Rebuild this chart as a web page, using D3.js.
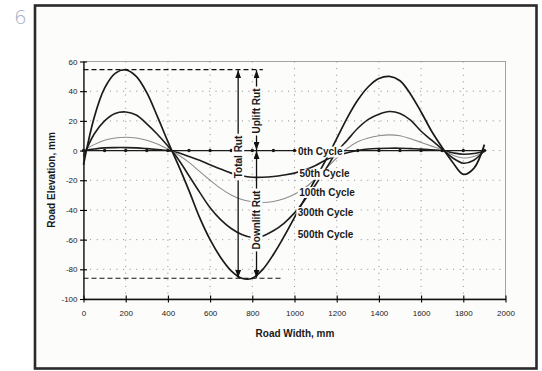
<!DOCTYPE html>
<html>
<head>
<meta charset="utf-8">
<script src="https://cdn.jsdelivr.net/npm/d3@7"></script>
<style>
  html, body { margin: 0; padding: 0; background: #fff; }
  svg { display: block; font-family: "Liberation Sans", Arial, sans-serif; }
</style>
</head>
<body>
<svg id="chart" width="542" height="371"></svg>
<script>
// road width positions (mm) for the measured profiles
const roadWidth = [0, 50, 100, 150, 200, 250, 300, 350, 400, 450, 500, 550, 600, 650, 700, 750, 800, 850, 900, 950,
  1000, 1050, 1100, 1150, 1200, 1250, 1300, 1350, 1400, 1450, 1500, 1550, 1600, 1650, 1700, 1750, 1800, 1850, 1900];

// road elevation (mm) after each number of cycles
const cycle500 = [-9.6, 22, 42, 52, 54.4, 50, 39, 23, 6, -10, -27, -45, -60, -72, -81, -86, -86, -80, -70, -58,
  -45, -32, -19, -6, 8, 22, 34, 43, 48.5, 50, 47, 38, 26, 13, 2, -8, -16, -12, 4];
const cycle300 = [-4, 11, 20, 25, 26, 24, 18, 11, 3, -6, -17, -28, -38.5, -46.5, -52.5, -56.5, -58.5, -57.5, -54, -49,
  -42, -33, -23, -12, -1, 7, 15, 21, 24.5, 26.3, 25, 20.5, 13, 7, 1, -5, -8.5, -6.5, 0];
const cycle100 = [0, 4, 7, 8.5, 9, 8.5, 7, 4.5, 1, -3, -8, -14, -20, -25.5, -30, -33, -34.5, -35, -34.3, -32.5,
  -29.5, -25, -19, -12, -5, 1.5, 6, 8.5, 10, 10.6, 10, 8, 5.5, 3, 0.5, -3, -5, -4, -1];
const cycle50 = [0, 1, 1.8, 2, 2, 1.8, 1.3, 0.7, 0, -1.5, -4, -6.5, -9.5, -12.5, -15.2, -17, -18, -18, -17.5, -16.5,
  -15.2, -13, -10, -6.2, -3.5, -1.5, 0, 1, 1.4, 1.6, 1.6, 1.3, 1, 0.5, 0, -1.5, -2.5, -2, -0.5];

// initial (0th cycle) profile, surveyed every 100 mm
const baseWidth = [0, 100, 200, 300, 400, 500, 600, 700, 800, 900, 1000, 1100, 1200, 1300, 1400, 1500, 1600, 1700, 1800, 1900];
const cycle0 = [0, 0, 0, 0, 0, 0, 0, 0, 0, 0, 0, 0, 0, 0, 0, 0, 0, 0, 0, 0];

const xTicks = [0, 200, 400, 600, 800, 1000, 1200, 1400, 1600, 1800, 2000];
const yTicks = [60, 40, 20, 0, -20, -40, -60, -80, -100];
const cycleNames = ["0th Cycle", "50th Cycle", "100th Cycle", "300th Cycle", "500th Cycle"];

// rut measurements (mm)
const upliftTop = 54.5;
const downliftBottom = -86;
const totalRutAt = 733;
const splitRutAt = 820;

const svg = d3.select("#chart");
const font = '"Liberation Sans", Arial, sans-serif';

svg.append("rect").attr("width", 542).attr("height", 371).attr("fill", "#fff");

// page number from the scan
svg.append("text")
  .attr("x", 14)
  .attr("y", 24)
  .attr("font-size", 20)
  .attr("font-family", "DejaVu Sans")
  .attr("font-weight", 200)
  .attr("fill", "#a9b0c8")
  .text("6");

// figure frame
svg.append("rect")
  .attr("x", 35)
  .attr("y", 5.5)
  .attr("width", 501.5)
  .attr("height", 363)
  .attr("fill", "#fcfcfb")
  .attr("stroke", "#2a2a2a")
  .attr("stroke-width", 2.6);

const x = d3.scaleLinear().domain([0, 2000]).range([83.5, 505.5]);
const y = d3.scaleLinear().domain([-100, 60]).range([299, 61.5]);

// plot border
svg.append("rect")
  .attr("x", x(0))
  .attr("y", y(60))
  .attr("width", x(2000) - x(0))
  .attr("height", y(-100) - y(60))
  .attr("fill", "none")
  .attr("stroke", "#8c8c8c")
  .attr("stroke-width", 0.8);

// dotted grid
const grid = svg.append("g")
  .attr("stroke", "#8a8a8a")
  .attr("stroke-width", 1)
  .attr("stroke-dasharray", "1,5.6");
grid.selectAll(".gx")
  .data(xTicks.slice(1, -1))
  .join("line")
  .attr("x1", (d) => x(d))
  .attr("x2", (d) => x(d))
  .attr("y1", y(60))
  .attr("y2", y(-100));
grid.selectAll(".gy")
  .data(yTicks.slice(1, -1))
  .join("line")
  .attr("x1", x(0))
  .attr("x2", x(2000))
  .attr("y1", (d) => y(d))
  .attr("y2", (d) => y(d));

// axes
const plain = (d) => String(d);
const gx = svg.append("g")
  .attr("transform", `translate(0,${y(-100)})`)
  .call(d3.axisBottom(x).tickValues(xTicks).tickFormat(plain).tickSize(3).tickSizeOuter(0).tickPadding(8));
gx.selectAll(".tick line").attr("y1", -3.5).attr("y2", 3.5).attr("stroke-width", 1.1);

const gy = svg.append("g")
  .attr("transform", `translate(${x(0)},0)`)
  .call(d3.axisLeft(y).tickValues(yTicks).tickFormat(plain).tickSize(3).tickSizeOuter(0).tickPadding(3));
gy.selectAll(".tick line").attr("x1", -3.5).attr("x2", 3.5).attr("stroke-width", 1.1);

[gx, gy].forEach((g) => {
  g.select(".domain").attr("stroke", "#111").attr("stroke-width", 1.3);
  g.selectAll(".tick text")
    .attr("font-size", 8)
    .attr("font-family", font)
    .attr("fill", "#222");
});

// axis titles
svg.append("text")
  .attr("x", 295)
  .attr("y", 337)
  .attr("text-anchor", "middle")
  .attr("font-size", 10)
  .attr("font-weight", "bold")
  .attr("fill", "#1a1a1a")
  .text("Road Width, mm");

svg.append("text")
  .attr("transform", "translate(54.5,180) rotate(-90)")
  .attr("text-anchor", "middle")
  .attr("font-size", 10)
  .attr("font-weight", "bold")
  .attr("fill", "#1a1a1a")
  .text("Road Elevation, mm");

// profiles
const profile = d3.line()
  .x((d, i) => x(roadWidth[i]))
  .y((d) => y(d))
  .curve(d3.curveCatmullRom.alpha(0.5));

const series = [
  { values: cycle50, stroke: "#1e1e1e", width: 1.6 },
  { values: cycle100, stroke: "#8d8d8d", width: 1.1 },
  { values: cycle300, stroke: "#1e1e1e", width: 1.6 },
  { values: cycle500, stroke: "#1a1a1a", width: 1.7 },
];

svg.append("g")
  .attr("fill", "none")
  .selectAll("path")
  .data(series)
  .join("path")
  .attr("d", (s) => profile(s.values))
  .attr("stroke", (s) => s.stroke)
  .attr("stroke-width", (s) => s.width);

const base = svg.append("g");
base.append("path")
  .attr("d", d3.line().x((d, i) => x(baseWidth[i])).y((d) => y(d))(cycle0))
  .attr("fill", "none")
  .attr("stroke", "#1a1a1a")
  .attr("stroke-width", 1.3);
base.selectAll("circle")
  .data(cycle0)
  .join("circle")
  .attr("cx", (d, i) => x(baseWidth[i]))
  .attr("cy", (d) => y(d))
  .attr("r", 1.7)
  .attr("fill", "#1a1a1a");

// rut annotation
const defs = svg.append("defs");
defs.append("marker")
  .attr("id", "head")
  .attr("viewBox", "0 0 8 6")
  .attr("refX", 8)
  .attr("refY", 3)
  .attr("markerWidth", 8)
  .attr("markerHeight", 6)
  .attr("markerUnits", "userSpaceOnUse")
  .attr("orient", "auto-start-reverse")
  .append("path")
  .attr("d", "M0,0L8,3L0,6Z")
  .attr("fill", "#111");

const notes = svg.append("g");
notes.selectAll(".dash")
  .data([[upliftTop, 850], [downliftBottom, 940]])
  .join("line")
  .attr("x1", x(0))
  .attr("x2", (d) => x(d[1]))
  .attr("y1", (d) => y(d[0]))
  .attr("y2", (d) => y(d[0]))
  .attr("stroke", "#111")
  .attr("stroke-width", 1.1)
  .attr("stroke-dasharray", "5,3");

const arrows = [
  { at: totalRutAt, from: upliftTop, to: downliftBottom, text: "Total Rut", mid: 157 },
  { at: splitRutAt, from: upliftTop, to: 0, text: "Uplift Rut", mid: 111 },
  { at: splitRutAt, from: 0, to: downliftBottom, text: "Downlift Rut", mid: 220 },
];

notes.selectAll(".arrow")
  .data(arrows)
  .join("line")
  .attr("x1", (d) => x(d.at))
  .attr("x2", (d) => x(d.at))
  .attr("y1", (d) => y(d.from) + 0.5)
  .attr("y2", (d) => y(d.to) - 0.5)
  .attr("stroke", "#111")
  .attr("stroke-width", 1.3)
  .attr("marker-start", "url(#head)")
  .attr("marker-end", "url(#head)");

arrows.forEach((d) => {
  const g = notes.append("g").attr("transform", `translate(${x(d.at)},${d.mid}) rotate(-90)`);
  const bg = g.append("rect").attr("fill", "#fcfcfb");
  const t = g.append("text")
    .attr("text-anchor", "middle")
    .attr("dy", "0.36em")
    .attr("font-size", 10)
    .attr("font-weight", "bold")
    .attr("fill", "#1a1a1a")
    .text(d.text);
  const w = t.node().getComputedTextLength();
  bg.attr("x", -w / 2 - 2).attr("y", -6).attr("width", w + 4).attr("height", 12);
});

// cycle labels sitting over the profiles
const labelPos = [[298, 155], [299.5, 177.3], [299.3, 195.5], [297.8, 215.5], [297.8, 238]];
const labels = svg.append("g");
cycleNames.forEach((name, i) => {
  const g = labels.append("g").attr("transform", `translate(${labelPos[i][0]},${labelPos[i][1]})`);
  const bg = g.append("rect").attr("fill", "#fcfcfb");
  const t = g.append("text")
    .attr("font-size", 10)
    .attr("font-weight", "bold")
    .attr("fill", "#1a1a1a")
    .text(name);
  const w = t.node().getComputedTextLength();
  bg.attr("x", -1.5).attr("y", -8.5).attr("width", w + 3).attr("height", 11);
});
</script>
</body>
</html>
